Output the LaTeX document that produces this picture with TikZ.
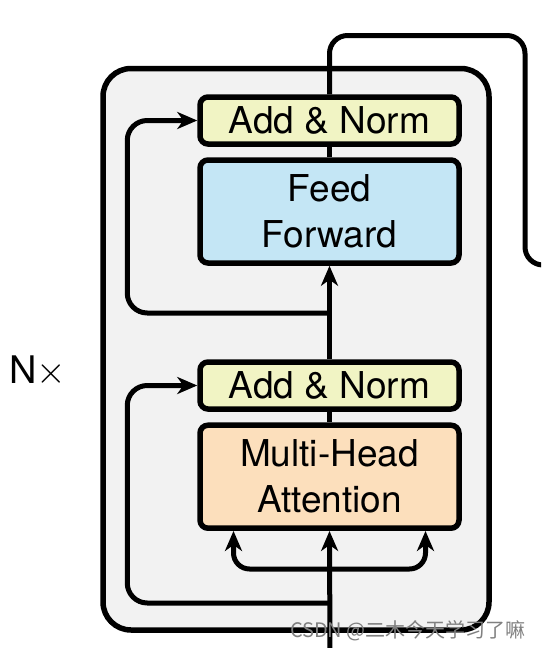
\documentclass[tikz,border=0pt]{standalone}
\usepackage{fontspec}
\setmainfont{TeX Gyre Heros}
\newfontfamily\cjk{Noto Sans CJK SC}
\usetikzlibrary{arrows.meta,calc}
\definecolor{outerfill}{HTML}{F2F2F2}
\definecolor{anfill}{HTML}{F1F4C4}
\definecolor{fffill}{HTML}{C4E6F5}
\definecolor{mhafill}{HTML}{FCDFBC}
\tikzset{
  blk/.style={draw=black, line width=5.5pt, rounded corners=8pt, inner sep=0pt,
    minimum width=259pt, align=center, font=\fontsize{37}{46}\selectfont},
  smallblk/.style={blk, minimum height=47pt},
  bigblk/.style={blk, minimum height=103pt},
  conn/.style={draw=black, line width=5pt},
  arr/.style={conn, -{Stealth[length=20pt, width=17pt, inset=6pt]}},
}
\begin{document}
\begin{tikzpicture}[x=1pt, y=-1pt]
\useasboundingbox (0,0) rectangle (541,648);
\clip (0,0) rectangle (541,648);
\fill[white] (0,0) rectangle (541,648);
% outer block
\draw[line width=5.5pt, fill=outerfill, rounded corners=28pt] (103,68.5) rectangle (489,630);
% nodes
\node[smallblk, fill=anfill] (an1) at (329.5,120.5) {Add \& Norm};
\node[bigblk, fill=fffill] (ff) at (329.5,211.5) {Feed\\Forward};
\node[smallblk, fill=anfill] (an2) at (329.5,385.5) {Add \& Norm};
\node[bigblk, fill=mhafill] (mha) at (329.5,476.7) {Multi-Head\\Attention};
\node[anchor=base west, font=\fontsize{38}{40}\selectfont, inner sep=0pt] (nx) at (9,383) {N\scalebox{3.8}{\normalsize$\times$}};
% coordinates
\coordinate (in) at (330,660);
\coordinate (br) at (330,569);
\coordinate (r1) at (330,603);
\coordinate (r2) at (330,313);
\coordinate (otop) at (525,35.5);
\coordinate (oout) at (600,265);
% connectors
\draw[arr] (in) -- (mha.south);
\draw[arr, rounded corners=16pt] (br) -| ([xshift=-96pt]mha.south);
\draw[arr, rounded corners=16pt] (br) -| ([xshift=96pt]mha.south);
\draw[arr, rounded corners=20pt] (r1) -| ($(an2.west)+(-70,0)$) -- (an2.west);
\draw[conn] (mha.north) -- (an2.south);
\draw[arr] (an2.north) -- (ff.south);
\draw[arr, rounded corners=20pt] (r2) -| ($(an1.west)+(-70,0)$) -- (an1.west);
\draw[conn] (ff.north) -- (an1.south);
\draw[conn, rounded corners=18pt] (an1.north) |- (otop) |- (oout);
% watermark
\node[anchor=base east, inner sep=0pt, text=black!50, font=\fontsize{20}{22}\selectfont] (wm) at (526,637) {\cjk CSDN @二木今天学习了嘛};
\end{tikzpicture}
\end{document}
